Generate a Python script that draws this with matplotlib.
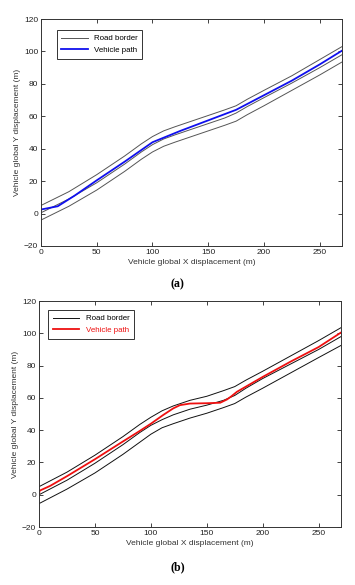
import matplotlib
matplotlib.use("Agg")
import matplotlib.pyplot as plt

# ---- data (a) ----
road_x = [0, 25, 50, 75, 90, 100, 110, 120, 135, 150, 165, 175, 185, 200, 225, 250, 270]
a_upper = [5, 13.5, 24, 35.5, 43, 47.5, 51, 53.5, 57, 60.5, 64, 66.5, 70.5, 76, 85, 95, 103]
a_middle = [0.5, 9, 19, 30.5, 38, 42.5, 46, 48.5, 52, 55.5, 59, 62, 66, 71.5, 80.5, 90, 98]
a_lower = [-4, 4.5, 14.5, 26, 33.5, 38, 41.5, 44, 47.5, 51, 54.5, 57, 61, 66.5, 76, 85.5, 93.5]
a_path_x = [0, 15, 30, 50, 75, 100, 125, 150, 175, 200, 225, 250, 270]
a_path_y = [2.5, 4.5, 11, 20.5, 32, 44, 51, 57.5, 64, 73, 82, 92, 100.5]

# ---- data (b) ----
b_upper = [5, 14, 24.5, 36, 43.5, 48, 52, 55, 58.5, 61, 64.5, 67, 71, 76.5, 86, 95.5, 103.5]
b_middle = [0, 9, 19.5, 31, 38.5, 43, 46.5, 49.5, 53, 55.5, 58.5, 61.5, 66, 72, 81, 90, 98]
b_lower = [-5.5, 3.5, 13.5, 25, 32.5, 37.5, 41.5, 44, 47.5, 50.5, 54, 56.5, 60.5, 66, 75.5, 85, 92.5]
b_path_x = [0, 0.5, 10, 25, 50, 75, 90, 100, 111, 120, 126, 135, 150, 162, 168, 172, 177, 189, 200, 225, 250, 270]
b_path_y = [0, 2.5, 5.5, 11.5, 22, 33, 39.5, 44, 49.4, 53.5, 55.5, 56.5, 56.7, 57, 59, 61, 63.8, 68.6, 73, 82.5, 91.5, 100.5]

x_ticks = [0, 50, 100, 150, 200, 250]
y_ticks = [-20, 0, 20, 40, 60, 80, 100, 120]
x_label = "Vehicle global X displacement (m)"
y_label = "Vehicle global Y displacement (m)"

plt.rcParams['font.family'] = ['Liberation Sans', 'DejaVu Sans']

fig = plt.figure(figsize=(3.55, 5.85), dpi=100)
axA = fig.add_axes([0.1155, 0.5795, 0.848, 0.388])
axB = fig.add_axes([0.1099, 0.0991, 0.8507, 0.3863])

def style(ax):
    ax.set_xlim(0, 270)
    ax.set_ylim(-20, 120)
    ax.set_xticks(x_ticks)
    ax.set_yticks(y_ticks)
    ax.tick_params(direction='in', top=True, right=True, length=3, width=0.6,
                   labelsize=6, colors='#222222', pad=2)
    for s in ax.spines.values():
        s.set_linewidth(0.7)
        s.set_color('#333333')
    ax.set_xlabel(x_label, fontsize=6, color='#333333', labelpad=2)
    ax.set_ylabel(y_label, fontsize=6, color='#333333', labelpad=2)

def legend(ax, anchor):
    leg = ax.legend(loc='upper left', bbox_to_anchor=anchor, fontsize=5.7, fancybox=False,
                    edgecolor='#333333', framealpha=1, handlelength=3.3, borderpad=0.6,
                    labelspacing=0.5, borderaxespad=0, handletextpad=0.8)
    leg.get_frame().set_linewidth(0.7)
    return leg

# (a)
axA.plot(road_x, a_upper, color='#555555', lw=0.7, label='Road border')
axA.plot(road_x, a_middle, color='#555555', lw=0.7)
axA.plot(road_x, a_lower, color='#555555', lw=0.7)
axA.plot(a_path_x, a_path_y, color='#1010ee', lw=1.3, label='Vehicle path')
style(axA)
legend(axA, (0.052, 0.951))

# (b)
axB.plot(road_x, b_upper, color='#111111', lw=0.7, label='Road border')
axB.plot(road_x, b_middle, color='#111111', lw=0.7)
axB.plot(road_x, b_lower, color='#111111', lw=0.7)
axB.plot(b_path_x, b_path_y, color='#ee1010', lw=1.3, label='Vehicle path')
style(axB)
legB = legend(axB, (0.031, 0.96))
legB.get_texts()[1].set_color('#ee1010')

fig.text(0.5, 1 - 284 / 585, "(a)", ha='center', va='center', fontsize=8.5,
         fontweight='bold', family=['Liberation Serif', 'DejaVu Serif'])
fig.text(0.5, 1 - 567 / 585, "(b)", ha='center', va='center', fontsize=8.5,
         fontweight='bold', family=['Liberation Serif', 'DejaVu Serif'])

fig.savefig("out.png", dpi=100)
